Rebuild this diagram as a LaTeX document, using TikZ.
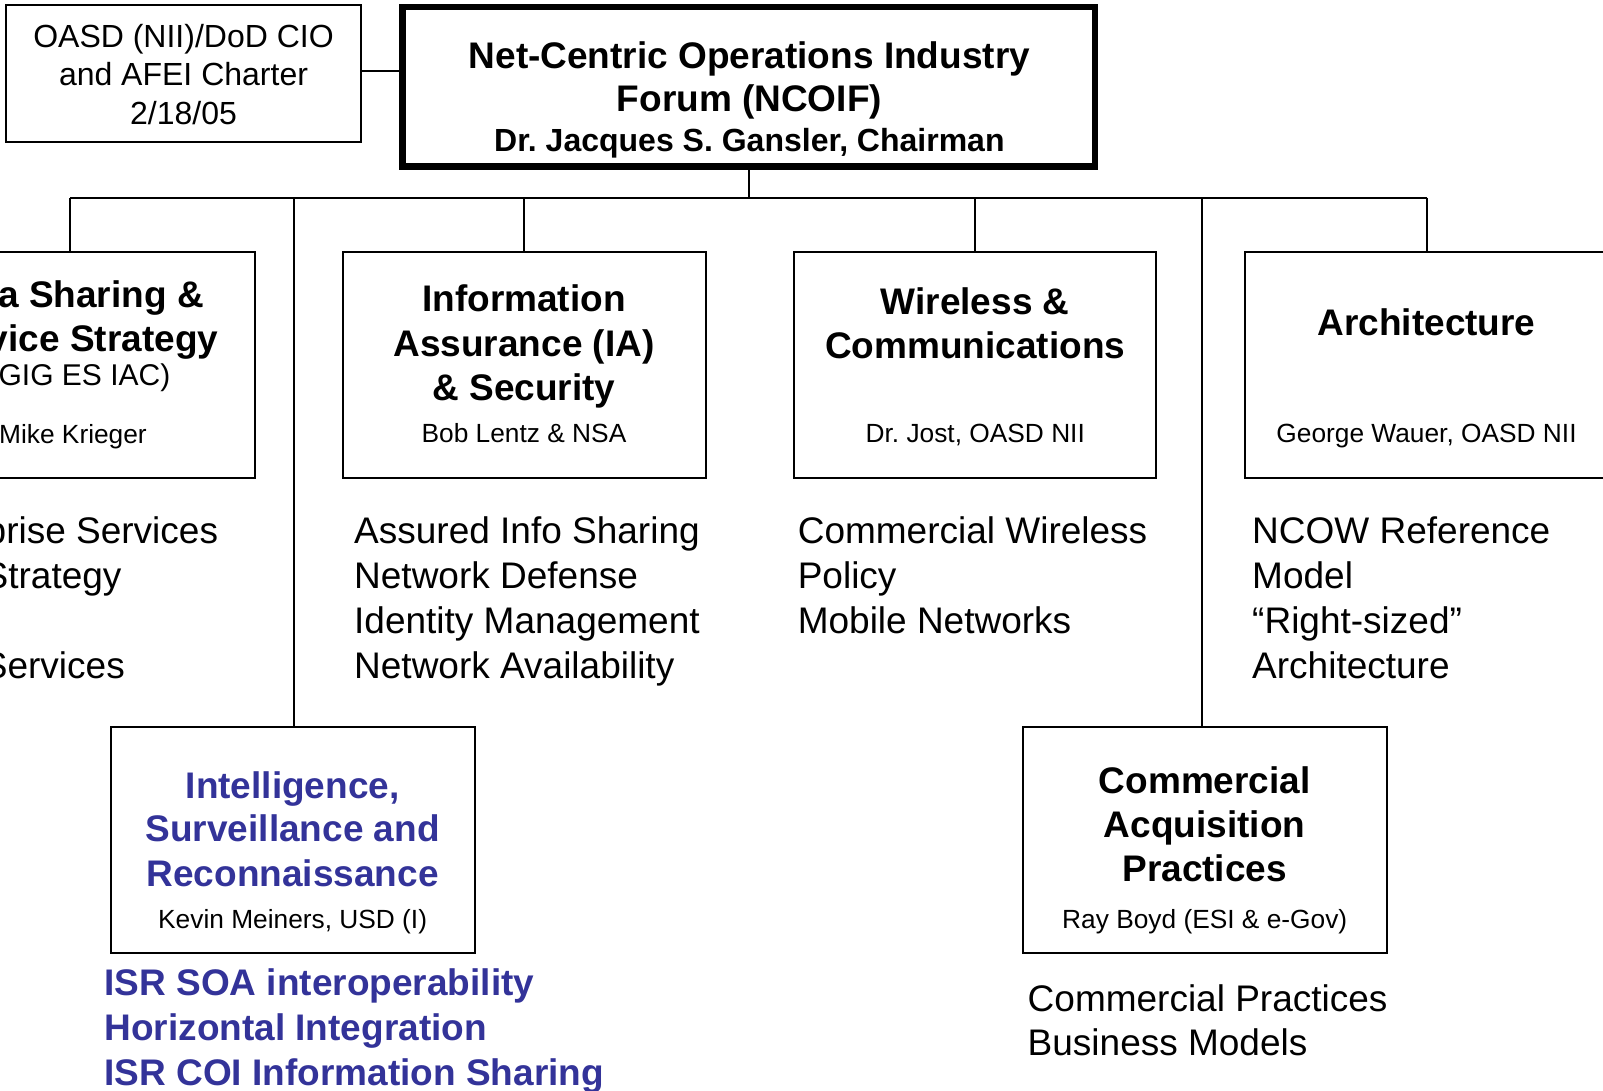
\documentclass[tikz,border=0pt]{standalone}
\usepackage{fontspec}
\setmainfont{Liberation Sans}
\definecolor{isrblue}{HTML}{333399}
\frenchspacing
\begin{document}
\frenchspacing
\begin{tikzpicture}[x=1pt,y=-1pt,
  box/.style={draw=black,line width=2pt,inner sep=0pt,fill=none},
  conn/.style={draw=black,line width=2pt},
  ttl/.style={font=\bfseries\fontsize{37}{44}\selectfont,inner sep=0pt,anchor=base},
  sub/.style={font=\fontsize{26.3}{30}\selectfont,inner sep=0pt,anchor=base},
  lst/.style={font=\fontsize{37}{44}\selectfont,inner sep=0pt,anchor=base west},
  blst/.style={font=\bfseries\fontsize{37}{44}\selectfont,text=isrblue,inner sep=0pt,anchor=base west},
  chr/.style={font=\fontsize{32}{38}\selectfont,inner sep=0pt,anchor=base}]
\useasboundingbox (0,0) rectangle (1603,1090);
\clip (0,0) rectangle (1603,1090);

% ---- boxes ----
\node[box,minimum width=355.5pt,minimum height=136.5pt] (charter) at (183.25,73.25) {};
\node[box,line width=6.5pt,minimum width=692.5pt,minimum height=159.5pt] (ncoif) at (748.75,86.75) {};
\node[box,minimum width=370pt,minimum height=226pt] (ds) at (70,364.9) {};
\node[box,minimum width=363pt,minimum height=226pt] (ia) at (524,364.9) {};
\node[box,minimum width=362pt,minimum height=226pt] (wl) at (975.25,364.9) {};
\node[box,minimum width=363pt,minimum height=226pt] (arch) at (1426.5,364.9) {};
\node[box,minimum width=364pt,minimum height=226pt] (isr) at (292.65,839.9) {};
\node[box,minimum width=364pt,minimum height=226.5pt] (cap) at (1204.7,840) {};

% ---- connectors ----
\coordinate (c1) at (361,70.7);
\coordinate (b1) at (70,197.5);
\coordinate (b2) at (294.2,197.5);
\coordinate (b3) at (523.5,197.5);
\coordinate (b4) at (974.5,197.5);
\coordinate (b5) at (1202.3,197.5);
\coordinate (b6) at (1426.7,197.5);
\draw[conn] (c1) -- (c1 -| ncoif.west);
\draw[conn] (ncoif.south) -- (ncoif.south |- b1);
\draw[conn] (b1) -- (b6);
\draw[conn] (b1) -- (b1 |- ds.north);
\draw[conn] (b2) -- (b2 |- isr.north);
\draw[conn] (b3) -- (b3 |- ia.north);
\draw[conn] (b4) -- (b4 |- wl.north);
\draw[conn] (b5) -- (b5 |- cap.north);
\draw[conn] (b6) -- (b6 |- arch.north);

% ---- charter text ----
\node[chr] (ch1) at (183.5,47.5) {OASD (NII)/DoD CIO};
\node[chr] (ch2) at (183.5,85.5) {and AFEI Charter};
\node[chr] (ch3) at (183.5,124) {2/18/05};

% ---- NCOIF text ----
\node[ttl] (n1) at (749.4,68.3) {Net-Centric Operations Industry};
\node[ttl] (n2) at (749.4,111.5) {Forum (NCOIF)};
\node[ttl,font=\bfseries\fontsize{32}{38}\selectfont] (n3) at (749.4,151.7) {Dr. Jacques S. Gansler, Chairman};

% ---- left (cut) box ----
\node[ttl,anchor=base east] (ds1) at (204,307) {a Sharing \&};
\node[ttl,anchor=base east] (ds2) at (218.5,351) {vice Strategy};
\node[sub,anchor=base east,font=\fontsize{30}{34}\selectfont] (ds3) at (170.5,385) {GIG ES IAC)};
\node[sub,anchor=base east] (ds4) at (147,443) {Mike Krieger};
\node[lst,anchor=base east] (dl1) at (218.3,543.5) {prise Services};
\node[lst,anchor=base east] (dl2) at (121.7,588.5) {Strategy};
\node[lst,anchor=base east] (dl3) at (125,678) {Services};

% ---- IA ----
\node[ttl] (ia1) at (524,311.7) {Information};
\node[ttl] (ia2) at (524,356) {Assurance (IA)};
\node[ttl] (ia3) at (524,400) {\& Security};
\node[sub] (ia4) at (524,442.7) {Bob Lentz \& NSA};
\node[lst] (il1) at (354,543.5) {Assured Info Sharing};
\node[lst] (il2) at (354,588.5) {Network Defense};
\node[lst] (il3) at (354,633.3) {Identity Management};
\node[lst] (il4) at (354,678) {Network Availability};

% ---- Wireless ----
\node[ttl] (wl1) at (975.25,314) {Wireless \&};
\node[ttl] (wl2) at (975.25,358.5) {Communications};
\node[sub] (wl3) at (975.25,442.7) {Dr. Jost, OASD NII};
\node[lst] (wll1) at (797.6,543.5) {Commercial Wireless};
\node[lst] (wll2) at (797.6,588.5) {Policy};
\node[lst] (wll3) at (797.6,633.3) {Mobile Networks};

% ---- Architecture ----
\node[ttl] (ar1) at (1426.5,335) {Architecture};
\node[sub] (ar2) at (1426.5,442) {George Wauer, OASD NII};
\node[lst] (al1) at (1252,543.5) {NCOW Reference};
\node[lst] (al2) at (1252,588.5) {Model};
\node[lst] (al3) at (1252,633.3) {“Right-sized”};
\node[lst] (al4) at (1252,678) {Architecture};

% ---- ISR ----
\node[ttl,text=isrblue] (is1) at (292.65,798.3) {Intelligence,};
\node[ttl,text=isrblue] (is2) at (292.65,841.7) {Surveillance and};
\node[ttl,text=isrblue] (is3) at (292.65,886) {Reconnaissance};
\node[sub] (is4) at (292.65,928.8) {Kevin Meiners, USD (I)};
\node[blst] (isl1) at (104.3,995) {ISR SOA interoperability};
\node[blst] (isl2) at (104.3,1040) {Horizontal Integration};
\node[blst] (isl3) at (104.3,1085) {ISR COI Information Sharing};

% ---- Commercial Acquisition ----
\node[ttl] (ca1) at (1204.7,793) {Commercial};
\node[ttl] (ca2) at (1204.7,837) {Acquisition};
\node[ttl] (ca3) at (1204.7,881) {Practices};
\node[sub] (ca4) at (1204.7,928.8) {Ray Boyd (ESI \& e-Gov)};
\node[lst] (cl1) at (1027.5,1011.5) {Commercial Practices};
\node[lst] (cl2) at (1027.5,1055.5) {Business Models};
\end{tikzpicture}
\end{document}
